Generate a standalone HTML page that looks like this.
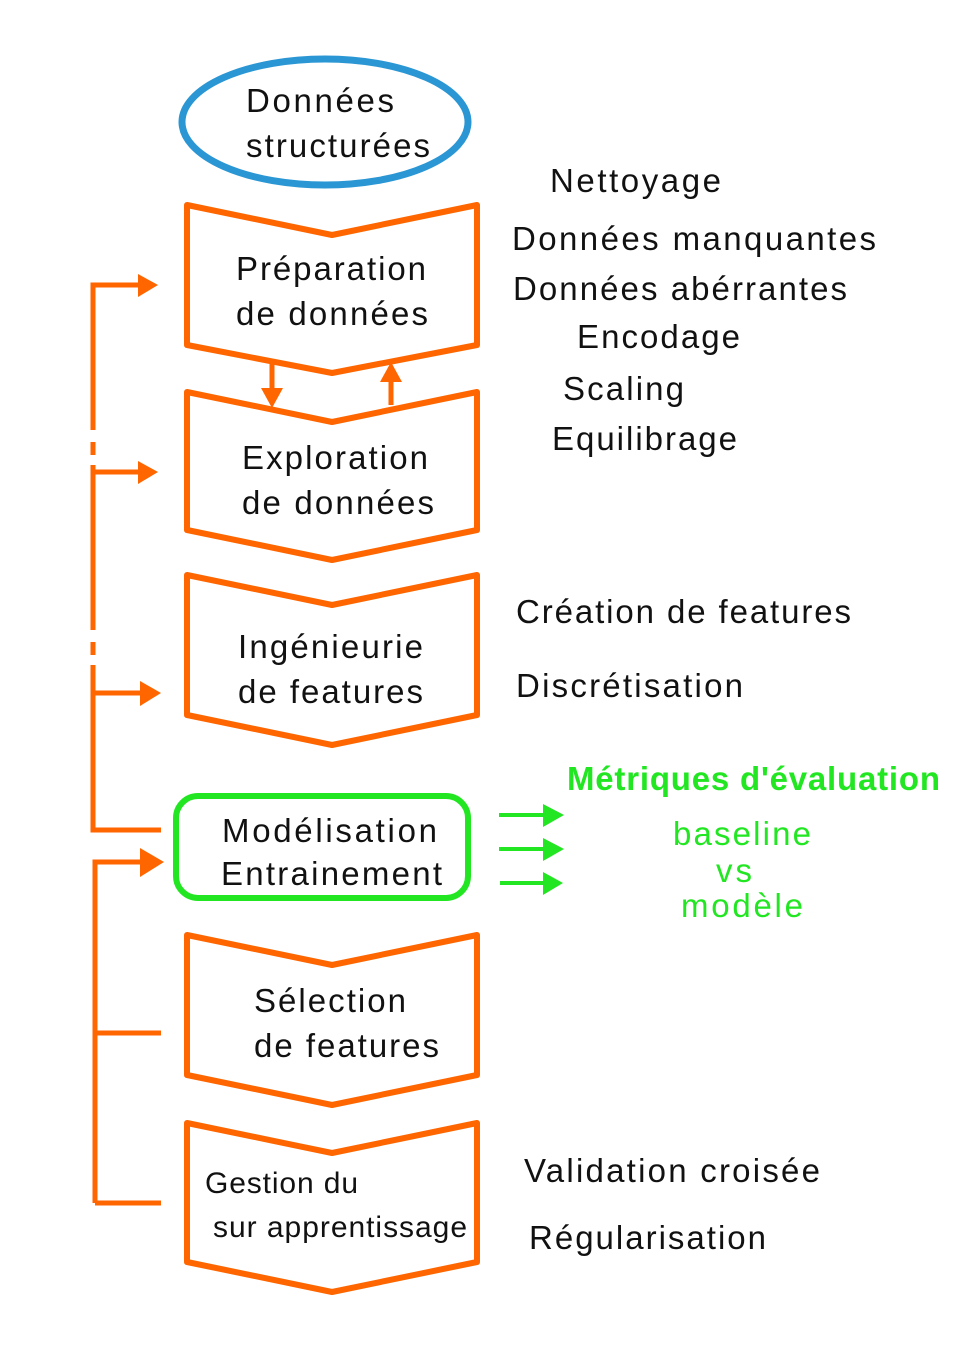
<!DOCTYPE html>
<html><head><meta charset="utf-8"><style>html,body{margin:0;padding:0;background:#fff}svg{display:block}</style></head>
<body>
<svg width="955" height="1350" viewBox="0 0 955 1350" xmlns="http://www.w3.org/2000/svg" font-family="'Liberation Sans', 'DejaVu Sans', sans-serif">
<defs>
<marker id="ao" markerWidth="8" markerHeight="8" refX="6" refY="4" orient="auto" markerUnits="userSpaceOnUse" viewBox="0 0 8 8"><path d="M0,0 L8,4 L0,8z" fill="#ff6600"/></marker>
</defs>
<g fill="none" stroke="#ff6600" stroke-width="6" stroke-linejoin="round">
<path d="M187,205 L332,235 L477,205 L477,345 L332,373 L187,345Z"/>
<path d="M187,392 L332,422 L477,392 L477,530 L332,560 L187,530Z"/>
<path d="M187,575 L332,605 L477,575 L477,715 L332,745 L187,715Z"/>
<path d="M187,935 L332,965 L477,935 L477,1075 L332,1105 L187,1075Z"/>
<path d="M187,1123 L332,1153 L477,1123 L477,1262 L332,1292 L187,1262Z"/>
</g>
<ellipse cx="325" cy="122" rx="143" ry="63" fill="none" stroke="#2a96d4" stroke-width="7"/>
<rect x="176" y="796" width="292" height="102" rx="22" fill="none" stroke="#22e622" stroke-width="6"/>
<!-- left connectors -->
<g stroke="#ff6600" stroke-width="5" fill="none">
<path d="M93,430 L93,285 L138,285"/>
<path d="M93,442 L93,455"/>
<path d="M93,630 L93,465"/><path d="M93,472 L138,472"/>
<path d="M93,642 L93,655"/>
<path d="M93,665 L93,830 L161,830"/><path d="M93,693 L140,693"/>
<path d="M95,1203 L95,862 L140,862"/>
<path d="M95,1033 L161,1033"/><path d="M95,1203 L161,1203"/>
<path d="M272,362 L272,392"/>
<path d="M391,405 L391,380"/>
</g>
<g fill="#ff6600">
<path d="M138,274 L158,285 L138,297Z"/>
<path d="M138,461 L158,472 L138,484Z"/>
<path d="M140,681 L161,693 L140,706Z"/>
<path d="M140,848 L164,862 L140,877Z"/>
<path d="M261,388 L283,388 L272,408Z"/>
<path d="M380,382 L402,382 L391,362Z"/>
</g>
<g stroke="#22e622" stroke-width="4"><path d="M499,815 L545,815"/><path d="M499,849 L545,849"/><path d="M500,883 L545,883"/></g>
<g fill="#22e622"><path d="M543,804 L564,815 L543,827Z"/><path d="M543,838 L564,849 L543,861Z"/><path d="M543,872 L563,883 L543,895Z"/></g>
<g font-size="33" fill="#111">
<text x="246" y="112" textLength="148">Données</text>
<text x="246" y="157" textLength="184">structurées</text>
<text x="236" y="280" textLength="190">Préparation</text>
<text x="236" y="325" textLength="192">de données</text>
<text x="242" y="469" textLength="186">Exploration</text>
<text x="242" y="514" textLength="192">de données</text>
<text x="238" y="658" textLength="185">Ingénieurie</text>
<text x="238" y="703" textLength="185">de features</text>
<text x="222" y="842" textLength="215">Modélisation</text>
<text x="221" y="885" textLength="221">Entrainement</text>
<text x="254" y="1012" textLength="152">Sélection</text>
<text x="254" y="1057" textLength="185">de features</text>
<text x="205" y="1193" font-size="30" textLength="153">Gestion du</text>
<text x="213" y="1237" font-size="30" textLength="254">sur apprentissage</text>
<text x="550" y="192" textLength="171">Nettoyage</text>
<text x="512" y="250" textLength="364">Données manquantes</text>
<text x="513" y="300" textLength="334">Données abérrantes</text>
<text x="577" y="348" textLength="163">Encodage</text>
<text x="563" y="400" textLength="121">Scaling</text>
<text x="552" y="450" textLength="185">Equilibrage</text>
<text x="516" y="623" textLength="335">Création de features</text>
<text x="516" y="697" textLength="227">Discrétisation</text>
<text x="524" y="1182" textLength="296">Validation croisée</text>
<text x="529" y="1249" textLength="237">Régularisation</text>
</g>
<g fill="#22e622" font-size="33">
<text x="567" y="790" font-weight="bold" textLength="373">Métriques d'évaluation</text>
<text x="673" y="845" textLength="138">baseline</text>
<text x="716" y="882" textLength="36">vs</text>
<text x="681" y="917" textLength="122">modèle</text>
</g>
</svg>
</body></html>
